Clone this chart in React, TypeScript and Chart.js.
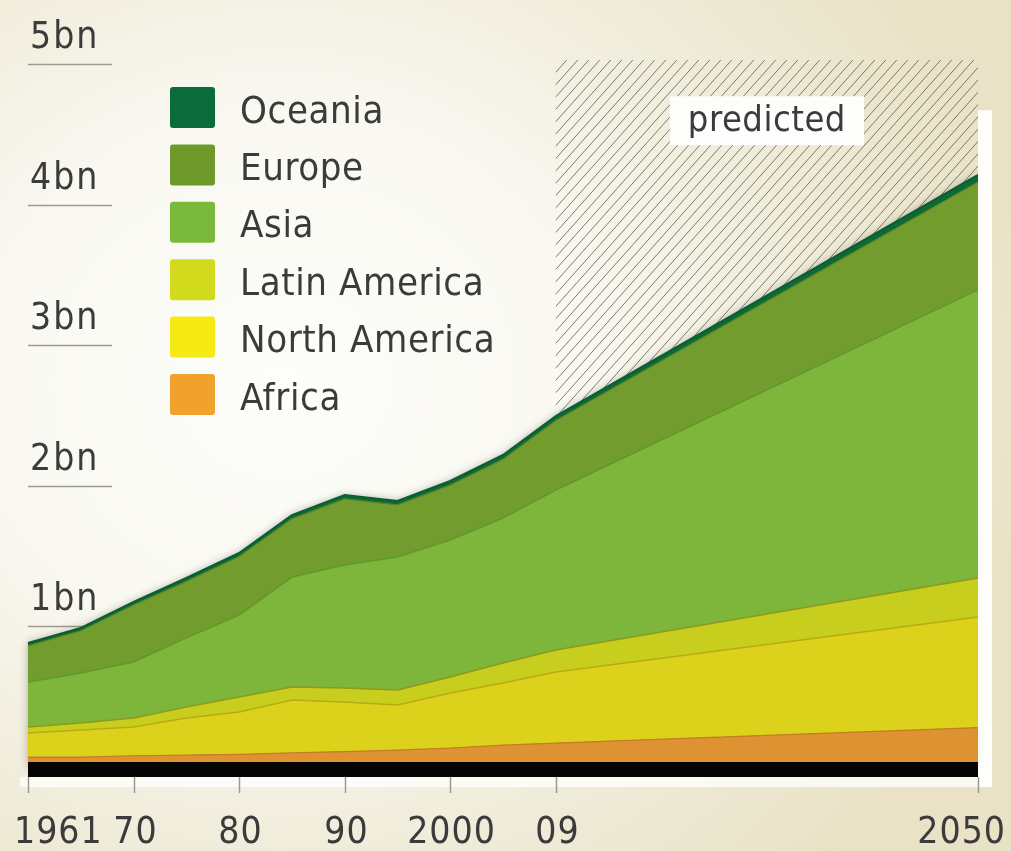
import { useEffect, useRef } from 'react';
import { Chart, registerables } from 'chart.js';

Chart.register(...registerables);

// Category slots along the time axis (five-year steps, projection to 2050)
const AXIS_SLOTS = ['1961', '1965', '1970', '1975', '1980', '1985', '1990', '1995', '2000', '2005', '2009', '2015', '2020', '2025', '2030', '2035', '2040', '2045', '2050'];
// Years with recorded / projected values
const YEARS = ['1961', '1965', '1970', '1975', '1980', '1985', '1990', '1995', '2000', '2005', '2009', '2050'];

// Values in billions, per region
const africa = [0.07, 0.07, 0.08, 0.085, 0.09, 0.1, 0.11, 0.12, 0.135, 0.155, 0.17, 0.28];
const northAmerica = [0.172, 0.193, 0.204, 0.264, 0.301, 0.377, 0.352, 0.321, 0.391, 0.442, 0.506, 0.787];
const latinAmerica = [0.042, 0.05, 0.065, 0.078, 0.107, 0.092, 0.1, 0.107, 0.114, 0.143, 0.156, 0.277];
const asia = [0.321, 0.356, 0.398, 0.491, 0.583, 0.782, 0.875, 0.946, 0.975, 1.031, 1.138, 2.049];
const europe = [0.257, 0.3, 0.405, 0.402, 0.416, 0.414, 0.47, 0.37, 0.39, 0.418, 0.495, 0.768];
const oceania = [0.02, 0.02, 0.022, 0.024, 0.025, 0.027, 0.028, 0.028, 0.029, 0.03, 0.031, 0.05];

const Y_TICKS = [1, 2, 3, 4, 5];
const Y_TICK_LABELS = ['1bn', '2bn', '3bn', '4bn', '5bn'];
const X_TICKS = ['1961', '1970', '1980', '1990', '2000', '2009', '2050'];
const X_TICK_LABELS = ['1961', '70', '80', '90', '2000', '09', '2050'];
const PREDICTED_FROM = '2009';
const PREDICTED_TO = '2050';
const PREDICTED_LABEL = 'predicted';

// Stack order bottom to top
const SERIES = [
  { name: 'Africa', values: africa, fill: '#de9232', line: '#c47e22', width: 1.2, key: '#f0a12e' },
  { name: 'North America', values: northAmerica, fill: '#dcd11b', line: '#b9ab14', width: 1.5, key: '#f6ea14' },
  { name: 'Latin America', values: latinAmerica, fill: '#c8ce1e', line: '#8e9a1a', width: 1.5, key: '#d2da1d' },
  { name: 'Asia', values: asia, fill: '#7db63b', line: '#5f9a2c', width: 1.5, key: '#7bb93d' },
  { name: 'Europe', values: europe, fill: '#729c2e', line: '#5c8424', width: 1.2, key: '#6f9a2b' },
  { name: 'Oceania', values: oceania, fill: '#0d6a36', line: '#0a5e2f', width: 2, key: '#0b6b3b' },
];

const LABEL_FONT = '37px "DejaVu Sans Condensed", "DejaVu Sans"';
const LEGEND_FONT = '38px "DejaVu Sans Condensed", "DejaVu Sans"';
const NOTE_FONT = '36px "DejaVu Sans Condensed", "DejaVu Sans"';
const TEXT_COLOR = '#3b3b3b';

const slotPx = (chart: any, label: string) => chart.scales.x.getPixelForValue(AXIS_SLOTS.indexOf(label));

const backdrop = {
  id: 'backdrop',
  beforeDatasetsDraw(chart: any) {
    const { ctx, chartArea, scales } = chart;
    const y = scales.y;

    // short value rules with their labels
    ctx.save();
    ctx.strokeStyle = '#9c9b95';
    ctx.lineWidth = 1.6;
    ctx.fillStyle = TEXT_COLOR;
    ctx.font = LABEL_FONT;
    (ctx as any).letterSpacing = '2px';
    ctx.textBaseline = 'alphabetic';
    ctx.textAlign = 'left';
    Y_TICKS.forEach((v, i) => {
      const py = Math.round(y.getPixelForValue(v)) + 0.5;
      ctx.beginPath();
      ctx.moveTo(chartArea.left, py);
      ctx.lineTo(chartArea.left + 84, py);
      ctx.stroke();
      ctx.fillText(Y_TICK_LABELS[i], chartArea.left + 2, py - 17);
    });
    ctx.restore();

    // hatched projection band
    const hx0 = slotPx(chart, PREDICTED_FROM);
    const hx1 = slotPx(chart, PREDICTED_TO);
    const top = y.getPixelForValue(5) - 4;
    const bottom = chartArea.bottom;
    ctx.save();
    ctx.beginPath();
    ctx.rect(hx0, top, hx1 - hx0, bottom - top);
    ctx.clip();
    ctx.strokeStyle = 'rgba(95,92,82,0.8)';
    ctx.lineWidth = 1;
    const H = bottom - top;
    const run = H / 1.12;
    ctx.beginPath();
    for (let sx = hx0 - run; sx < hx1 + 20; sx += 11) {
      ctx.moveTo(sx, bottom);
      ctx.lineTo(sx + run, top);
    }
    ctx.stroke();
    ctx.restore();

    // soft shadow along the top of the stack
    const pts = chart.getDatasetMeta(SERIES.length - 1).data;
    if (pts.length) {
      ctx.save();
      ctx.beginPath();
      ctx.moveTo(pts[0].x, pts[0].y);
      for (let i = 1; i < pts.length; i++) ctx.lineTo(pts[i].x, pts[i].y);
      ctx.lineTo(pts[pts.length - 1].x, bottom);
      ctx.lineTo(pts[0].x, bottom);
      ctx.closePath();
      ctx.shadowColor = 'rgba(40,40,20,0.35)';
      ctx.shadowBlur = 8;
      ctx.fillStyle = '#0d6a36';
      ctx.fill();
      ctx.restore();
    }
  },
};

const overlay = {
  id: 'overlay',
  afterDatasetsDraw(chart: any) {
    const { ctx, chartArea, scales } = chart;
    const y = scales.y;
    const y0 = y.getPixelForValue(0);
    const left = chartArea.left;
    const right = chartArea.right;

    ctx.save();
    // white frame strips
    const stripTop = y.getPixelForValue(4.6) - 10;
    ctx.fillStyle = 'rgba(255,255,253,0.92)';
    ctx.fillRect(right, stripTop, 14, y0 + 20 - stripTop);
    ctx.fillStyle = 'rgba(255,255,253,0.75)';
    ctx.fillRect(left - 8, y0 + 10, right - left + 22, 10);

    // thick base bar
    ctx.fillStyle = '#050505';
    ctx.fillRect(left, y0 - 5, right - left, 15);

    // x tick marks and labels
    ctx.strokeStyle = '#9a9a94';
    ctx.lineWidth = 1.5;
    ctx.font = LABEL_FONT;
    (ctx as any).letterSpacing = '1px';
    ctx.fillStyle = TEXT_COLOR;
    ctx.textBaseline = 'alphabetic';
    ctx.textAlign = 'left';
    X_TICKS.forEach((yr, i) => {
      const px = Math.round(slotPx(chart, yr)) + 0.5;
      ctx.beginPath();
      ctx.moveTo(px, y0 + 10);
      ctx.lineTo(px, y0 + 26);
      ctx.stroke();
      const text = X_TICK_LABELS[i];
      const w = ctx.measureText(text).width;
      let cx = px;
      cx = Math.max(cx, 13 + w / 2);
      cx = Math.min(cx, chart.width - 6 - w / 2);
      ctx.fillText(text, cx - w / 2 + 1, y0 + 76);
    });

    // "predicted" tag
    const mid = (slotPx(chart, PREDICTED_FROM) + slotPx(chart, PREDICTED_TO)) / 2;
    const ty = y.getPixelForValue(4.6);
    ctx.font = NOTE_FONT;
    (ctx as any).letterSpacing = '0.5px';
    const tw = ctx.measureText(PREDICTED_LABEL).width;
    ctx.fillStyle = '#fdfdfb';
    ctx.fillRect(mid - tw / 2 - 18, ty - 24, tw + 36, 49);
    ctx.fillStyle = TEXT_COLOR;
    ctx.fillText(PREDICTED_LABEL, mid - tw / 2, ty + 11);

    // legend, top layer first
    const keyX = 170;
    const rowTop = 87;
    const rowStep = 57.4;
    ctx.font = LEGEND_FONT;
    (ctx as any).letterSpacing = '0.6px';
    [...SERIES].reverse().forEach((s, i) => {
      const top = rowTop + i * rowStep;
      ctx.fillStyle = s.key;
      ctx.beginPath();
      if (ctx.roundRect) ctx.roundRect(keyX, top, 45, 41, 3);
      else ctx.rect(keyX, top, 45, 41);
      ctx.fill();
      ctx.fillStyle = TEXT_COLOR;
      ctx.fillText(s.name, 240, top + 20.5 + 15);
    });
    ctx.restore();
  },
};

export default function App() {
  const ref = useRef<HTMLCanvasElement>(null);

  useEffect(() => {
    const canvas = ref.current;
    if (!canvas) return;
    const chart = new Chart(canvas, {
      type: 'line',
      data: {
        labels: AXIS_SLOTS,
        datasets: SERIES.map((s, i) => ({
          label: s.name,
          data: YEARS.map((yr, j) => ({ x: yr, y: s.values[j] })),
          backgroundColor: s.fill,
          borderColor: s.line,
          borderWidth: s.width,
          pointRadius: 0,
          pointHoverRadius: 0,
          tension: 0,
          fill: i === 0 ? 'origin' : '-1',
        })),
      },
      options: {
        responsive: false,
        animation: false,
        events: [],
        layout: { padding: { left: 28, right: 33, top: 64, bottom: 84 } },
        scales: {
          x: { type: 'category', display: false, offset: false },
          y: { stacked: true, min: 0, max: 5, display: false },
        },
        plugins: { legend: { display: false }, tooltip: { enabled: false } },
      },
      plugins: [backdrop, overlay],
    } as any);
    return () => chart.destroy();
  }, []);

  return (
    <div
      style={{
        position: 'fixed',
        left: 0,
        top: 0,
        width: 1011,
        height: 851,
        background: 'radial-gradient(ellipse 75% 80% at 28% 45%, #fdfdfa 0%, #f9f8f1 40%, #f0ecda 70%, #e9e2c6 100%)',
      }}
    >
      <canvas ref={ref} width={1011} height={851} style={{ display: 'block', width: 1011, height: 851 }} />
    </div>
  );
}
